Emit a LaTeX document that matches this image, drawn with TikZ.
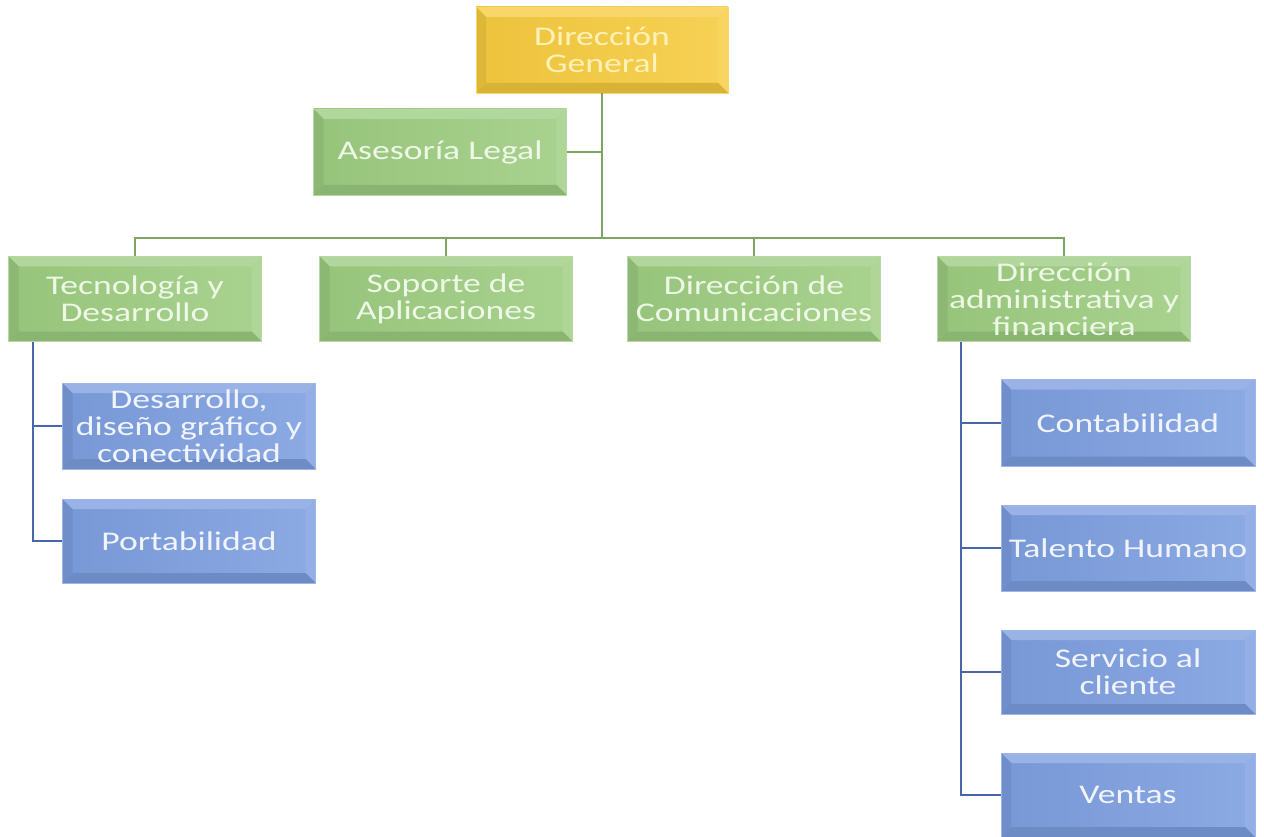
\documentclass[tikz,border=0pt]{standalone}
\usepackage{fontspec}
\newfontfamily\boxfont[FakeStretch=1.32]{Carlito}
\definecolor{gold}{HTML}{F6CB3E}
\definecolor{leaf}{HTML}{9DCC80}
\definecolor{sky}{HTML}{7C9EDF}
\definecolor{goldtxt}{HTML}{FFF2B8}
\definecolor{leaftxt}{HTML}{EEF8E6}
\definecolor{skytxt}{HTML}{F1F4FC}
\definecolor{gline}{HTML}{7DA55E}
\definecolor{bline}{HTML}{4767AA}
\tikzset{
  bev/.style={left color=#1!96!black, right color=#1!88!white, draw=#1!75!white, line width=0.8pt,
    path picture={
      \fill[#1!78!white]
        (path picture bounding box.north west) -- (path picture bounding box.north east)
        -- ([xshift=-10pt,yshift=-10pt]path picture bounding box.north east)
        -- ([xshift=10pt,yshift=-10pt]path picture bounding box.north west) -- cycle;
      \fill[#1!90!black]
        (path picture bounding box.north west) -- ([xshift=10pt,yshift=-10pt]path picture bounding box.north west)
        -- ([xshift=10pt,yshift=10pt]path picture bounding box.south west)
        -- (path picture bounding box.south west) -- cycle;
      \fill[#1!82!white]
        (path picture bounding box.north east) -- ([xshift=-10pt,yshift=-10pt]path picture bounding box.north east)
        -- ([xshift=-10pt,yshift=10pt]path picture bounding box.south east)
        -- (path picture bounding box.south east) -- cycle;
      \fill[#1!88!black]
        (path picture bounding box.south west) -- ([xshift=10pt,yshift=10pt]path picture bounding box.south west)
        -- ([xshift=-10pt,yshift=10pt]path picture bounding box.south east)
        -- (path picture bounding box.south east) -- cycle;
    }},
  box/.style={rectangle, minimum width=253pt, minimum height=85pt, inner sep=2pt,
    align=center, font=\boxfont\fontsize{27}{27}\selectfont},
  goldbox/.style={box, bev=gold, text=goldtxt},
  leafbox/.style={box, bev=leaf, text=leaftxt},
  skybox/.style={box, bev=sky, text=skytxt},
  gwire/.style={draw=gline, line width=1.8pt},
  bwire/.style={draw=bline, line width=1.8pt}
}
\begin{document}
\begin{tikzpicture}[x=1pt,y=-1pt]
\useasboundingbox (0,0) rectangle (1264,837);

% top level and adviser
\node[goldbox, minimum width=252pt, minimum height=86pt] (dg) at (602,50) {Dirección\\General};
\node[leafbox, minimum height=86pt] (al) at (440,152) {Asesoría Legal};

% second level
\node[leafbox] (td) at (135,299) {Tecnología y\\Desarrollo};
\node[leafbox] (sa) at (446,299) {Soporte de\\Aplicaciones};
\node[leafbox] (dc) at (754,299) {Dirección de\\Comunicaciones};
\node[leafbox] (da) at (1064,299) {Dirección\\administrativa y\\financiera};

% units under Tecnología y Desarrollo
\node[skybox, minimum height=86pt] (dg1) at (189,426) {Desarrollo,\\diseño gráfico y\\conectividad};
\node[skybox, minimum height=84pt] (pt) at (189,541) {Portabilidad};

% units under Dirección administrativa y financiera
\node[skybox, minimum width=254pt, minimum height=87pt] (ct) at (1128,423) {Contabilidad};
\node[skybox, minimum width=254pt, minimum height=86pt] (th) at (1128,548) {Talento Humano};
\node[skybox, minimum width=254pt, minimum height=84pt] (sc) at (1128,672) {Servicio al\\cliente};
\node[skybox, minimum width=254pt, minimum height=84pt] (vt) at (1128,795) {Ventas};

% green connectors
\coordinate (bus) at (602,238);
\draw[gwire] (dg.south) -- (bus);
\draw[gwire] (al.east) -- (al.east -| bus);
\draw[gwire] (td.north) -- (td.north |- bus) -- (da.north |- bus) -- (da.north);
\draw[gwire] (sa.north) -- (sa.north |- bus);
\draw[gwire] (dc.north) -- (dc.north |- bus);

% blue connectors
\coordinate (lt) at (33,342);
\coordinate (rt) at (961,342);
\draw[bwire] (lt) |- (dg1.west);
\draw[bwire] (lt) |- (pt.west);
\draw[bwire] (rt) |- (ct.west);
\draw[bwire] (rt) |- (th.west);
\draw[bwire] (rt) |- (sc.west);
\draw[bwire] (rt) |- (vt.west);
\end{tikzpicture}
\end{document}
